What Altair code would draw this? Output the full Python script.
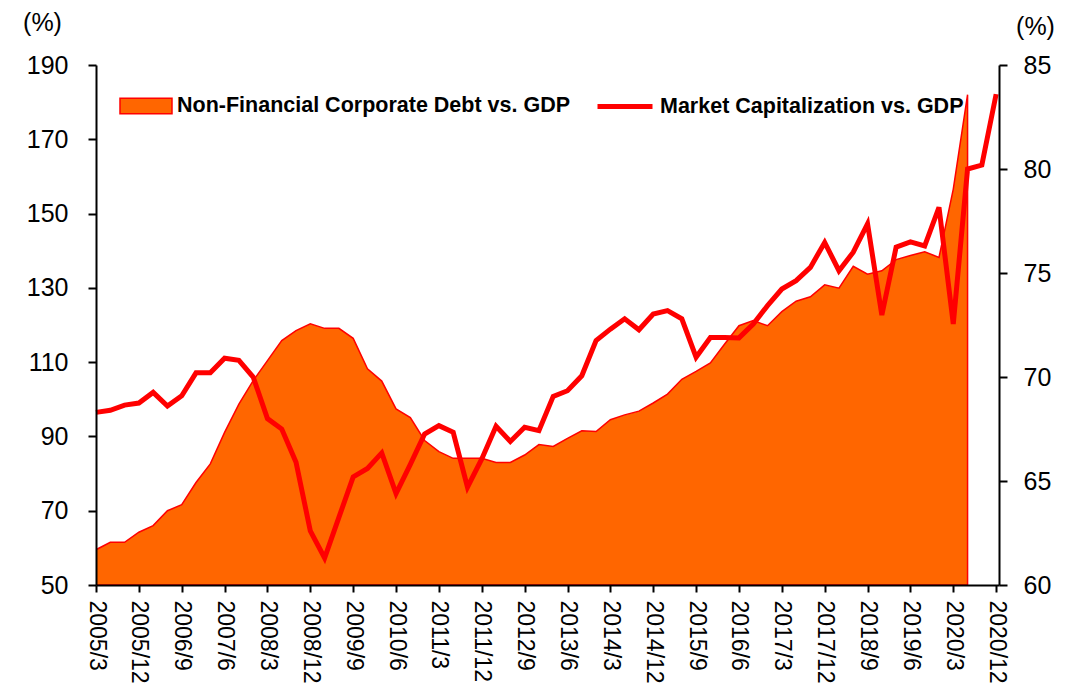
import json
import altair as alt
import pandas as pd

# Quarter index 0 = 2005/3 ... 63 = 2020/12
tick_labels = ["2005/3", "2005/12", "2006/9", "2007/6", "2008/3", "2008/12",
               "2009/9", "2010/6", "2011/3", "2011/12", "2012/9", "2013/6",
               "2014/3", "2014/12", "2015/9", "2016/6", "2017/3", "2017/12",
               "2018/9", "2019/6", "2020/3", "2020/12"]

debt_vs_gdp = [59.5, 61.5, 61.5, 64.2, 66.0, 70.0, 71.6, 77.6, 82.6, 91.1,
               98.7, 105.0, 110.4, 115.8, 118.5, 120.3, 119.1, 119.1, 116.4, 108.2,
               104.9, 97.4, 95.1, 88.9, 85.9, 84.1, 84.1, 84.1, 83.0, 83.0,
               85.0, 87.8, 87.3, 89.5, 91.5, 91.3, 94.5, 95.8, 96.8, 99.0,
               101.4, 105.4, 107.5, 109.8, 114.9, 119.8, 121.2, 119.8, 123.6, 126.4,
               127.6, 130.8, 129.9, 135.8, 133.7, 134.6, 137.6, 138.7, 139.7, 138.2,
               156.6, 182.0, None, None]

market_cap_vs_gdp = [68.3, 68.4, 68.65, 68.75, 69.26, 68.6, 69.1, 70.2, 70.2, 70.9,
                     70.8, 70.0, 68.0, 67.5, 65.9, 62.6, 61.3, 63.25, 65.2, 65.6,
                     66.35, 64.4, 65.8, 67.26, 67.66, 67.34, 64.7, 66.06, 67.63, 66.9,
                     67.58, 67.42, 69.07, 69.34, 70.06, 71.75, 72.3, 72.8, 72.27, 73.03,
                     73.19, 72.8, 70.95, 71.9, 71.9, 71.88, 72.55, 73.43, 74.23, 74.63,
                     75.27, 76.47, 75.11, 76.0, 77.36, 72.98, 76.24, 76.5, 76.3, 78.16,
                     72.55, 80.0, 80.19, 83.6]

debt_name = "Non-Financial Corporate Debt vs. GDP"
mcap_name = "Market Capitalization vs. GDP"

df = pd.DataFrame({
    "idx": list(range(len(market_cap_vs_gdp))),
    "debt": debt_vs_gdp,
    "mcap": market_cap_vs_gdp,
    "s1": [debt_name] * len(market_cap_vs_gdp),
    "s2": [mcap_name] * len(market_cap_vs_gdp),
})

FONT = "Liberation Sans, Arial, sans-serif"

x_enc = alt.X(
    "idx:Q",
    scale=alt.Scale(domain=[0, 63.2], nice=False, zero=False),
    axis=alt.Axis(
        values=list(range(0, 64, 3)),
        labelExpr=json.dumps(tick_labels) + "[round(datum.value/3)]",
        labelAngle=90, labelAlign="left", labelBaseline="middle",
        labelFont=FONT, labelFontSize=23, labelColor="#000000",
        labelPadding=8, tickSize=7, tickWidth=2, tickColor="#000000",
        domainColor="#000000", domainWidth=2, grid=False, title=None,
        labelOverlap=False, zindex=1,
    ),
)

area = alt.Chart(df).mark_area(
    stroke="#FF0000", strokeWidth=1.5, clip=True
).encode(
    x=x_enc,
    y=alt.Y(
        "debt:Q",
        scale=alt.Scale(domain=[50, 190], nice=False, zero=False),
        axis=alt.Axis(
            values=list(range(50, 191, 20)), grid=False,
            labelFont=FONT, labelFontSize=25, labelColor="#000000",
            labelPadding=20, tickSize=8, tickWidth=2, tickColor="#000000",
            domainColor="#000000", domainWidth=2,
            title="(%)", titleAngle=0, titleX=-54, titleY=-43,
            titleAlign="center", titleBaseline="middle",
            titleFont=FONT, titleFontSize=25, titleFontWeight="normal",
            titleColor="#000000", zindex=1,
        ),
    ),
    y2=alt.datum(50),
    fill=alt.Fill(
        "s1:N",
        scale=alt.Scale(domain=[debt_name], range=["#FF6600"]),
        legend=alt.Legend(
            title=None, orient="none", legendX=23, legendY=14, padding=0,
            symbolType="M-1,-0.3H1V0.3H-1Z", symbolSize=2704,
            symbolStrokeColor="#FF0000", symbolStrokeWidth=1.5,
            symbolFillColor="#FF6600", symbolOpacity=1,
            labelFont=FONT, labelFontSize=21.5, labelFontWeight="bold",
            labelColor="#000000", labelLimit=800, labelOffset=4,
        ),
    ),
)

line = alt.Chart(df).mark_line(strokeWidth=5).encode(
    x=x_enc,
    y=alt.Y(
        "mcap:Q",
        scale=alt.Scale(domain=[60, 85], nice=False, zero=False),
        axis=alt.Axis(
            orient="right", values=list(range(60, 86, 5)), grid=False,
            labelFont=FONT, labelFontSize=25, labelColor="#000000",
            labelPadding=16, tickSize=8, tickWidth=2, tickColor="#000000",
            domainColor="#000000", domainWidth=2,
            title="(%)", titleAngle=0, titleX=36, titleY=-39,
            titleAlign="center", titleBaseline="middle",
            titleFont=FONT, titleFontSize=25, titleFontWeight="normal",
            titleColor="#000000", zindex=1,
        ),
    ),
    stroke=alt.Stroke(
        "s2:N",
        scale=alt.Scale(domain=[mcap_name], range=["#FF0000"]),
        legend=alt.Legend(
            title=None, orient="none", legendX=499, legendY=11.5, padding=0,
            symbolType="stroke", symbolSize=3025, symbolStrokeWidth=5,
            labelFont=FONT, labelFontSize=21.5, labelFontWeight="bold",
            labelColor="#000000", labelLimit=800, labelOffset=5,
        ),
    ),
)

chart = alt.layer(area, line).resolve_scale(
    y="independent", fill="independent", stroke="independent"
).properties(
    width=903, height=520,
    padding={"left": 14, "top": 2, "right": 5, "bottom": 0},
    background="#FFFFFF",
).configure_view(strokeWidth=0)

chart.save("out.html", embed_options={"renderer": "svg", "actions": False})
